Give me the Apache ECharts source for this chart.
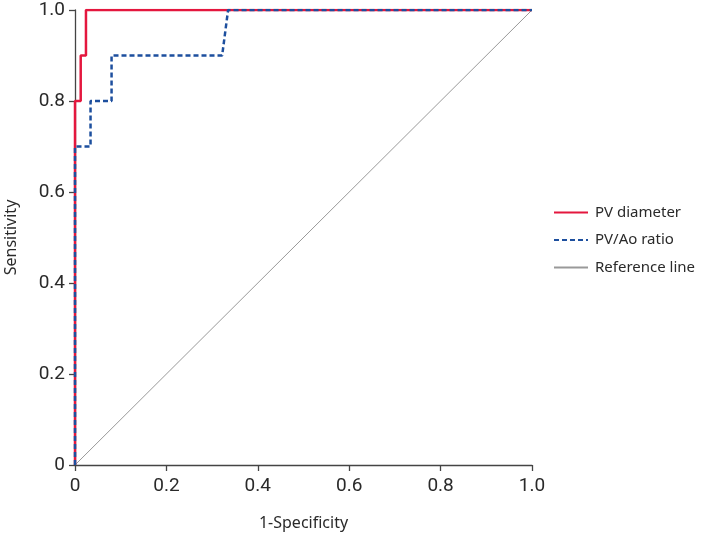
<!DOCTYPE html>
<html>
<head>
<meta charset="utf-8">
<script src="https://cdn.jsdelivr.net/npm/echarts@6/dist/echarts.min.js"></script>
<style>
  html, body { margin: 0; padding: 0; background: #fff; }
  #roc { width: 702px; height: 535px; }
</style>
</head>
<body>
<div id="roc"></div>
<script>
// ROC curves: [1-specificity, sensitivity]
var pvDiameter = [[0, 0], [0, 0.8], [0.0125, 0.8], [0.0125, 0.9], [0.024, 0.9], [0.024, 1.0], [1.0, 1.0]];
var pvAoRatio = [[0, 0], [0, 0.7], [0.034, 0.7], [0.034, 0.8], [0.08, 0.8], [0.08, 0.9], [0.322, 0.9], [0.335, 1.0], [1.0, 1.0]];
var referenceLine = [[0, 0], [1, 1]];
var seriesNames = ['PV diameter', 'PV/Ao ratio', 'Reference line'];

var chart = echarts.init(document.getElementById('roc'));

var tickFmt = function (v) {
    return v === 0 ? '0' : v.toFixed(1);
};

var axisCommon = {
    type: 'value',
    min: 0,
    max: 1,
    interval: 0.2,
    splitLine: { show: false },
    axisLine: { show: true, lineStyle: { color: '#444', width: 1.3 } },
    axisTick: { show: true, length: 6, lineStyle: { color: '#444', width: 1.3 } },
    axisLabel: {
        formatter: tickFmt,
        color: '#2a2a2a',
        fontSize: 19,
        fontFamily: 'Roboto, sans-serif'
    },
    nameLocation: 'middle',
    nameTextStyle: { color: '#2a2a2a', fontSize: 16, fontFamily: 'Noto Sans, sans-serif' }
};

chart.setOption({
    animation: false,
    backgroundColor: '#fff',
    grid: { left: 75, right: 170, top: 10, bottom: 70, outerBoundsMode: 'none', containLabel: false },
    legend: {
        orient: 'vertical',
        left: 553,
        top: 205,
        padding: 0,
        itemWidth: 34,
        itemHeight: 14,
        itemGap: 12.5,
        data: seriesNames,
        itemStyle: { opacity: 0 },
        textStyle: { color: '#2a2a2a', fontSize: 15, padding: [0, 0, 0, 2], fontFamily: 'Noto Sans, sans-serif' }
    },
    xAxis: Object.assign({}, axisCommon, {
        name: '1-Specificity',
        nameGap: 50,
        axisLabel: Object.assign({}, axisCommon.axisLabel, { margin: 12 })
    }),
    yAxis: Object.assign({}, axisCommon, {
        name: 'Sensitivity',
        nameGap: 56,
        axisLabel: Object.assign({}, axisCommon.axisLabel, { margin: 10 })
    }),
    series: [
        {
            name: seriesNames[0],
            type: 'line',
            data: pvDiameter,
            symbol: 'none',
            z: 3,
            lineStyle: { color: '#e4173e', width: 2.5 },
            itemStyle: { color: '#e4173e' }
        },
        {
            name: seriesNames[1],
            type: 'line',
            data: pvAoRatio,
            symbol: 'none',
            z: 4,
            lineStyle: { color: '#1d4f9e', width: 2.5, type: [5, 3] },
            itemStyle: { color: '#1d4f9e' }
        },
        {
            name: seriesNames[2],
            type: 'line',
            data: referenceLine,
            symbol: 'none',
            z: 2,
            lineStyle: { color: '#999', width: 1 },
            itemStyle: { color: '#999' }
        }
    ]
});
</script>
</body>
</html>
